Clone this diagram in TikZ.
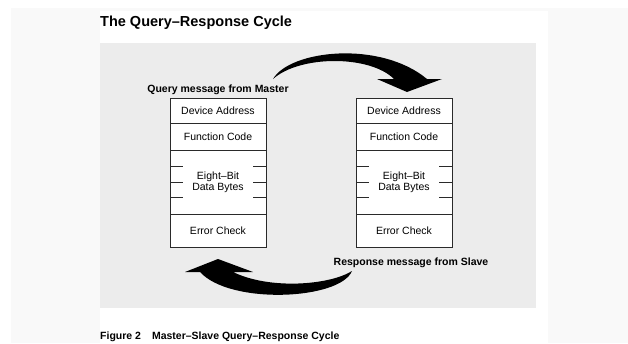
\documentclass[tikz,border=0pt]{standalone}
\usepackage{fontspec}
\setmainfont{Liberation Sans}
\usetikzlibrary{positioning}

\definecolor{outergray}{HTML}{F9F9F9}
\definecolor{panelgray}{HTML}{ECECEC}
\definecolor{boxline}{HTML}{2A2A2A}

\begin{document}
\begin{tikzpicture}[x=1pt,y=-1pt,node distance=0pt,
    field/.style={rectangle,draw=boxline,line width=1pt,fill=white,
      minimum width=96,inner sep=0pt,outer sep=0pt,
      font=\fontsize{10.5}{11}\selectfont},
    msg label/.style={font=\fontsize{10.5}{12}\selectfont\bfseries,inner sep=0pt},
    big arrow/.style={fill=black,draw=none}]

  \useasboundingbox (0,0) rectangle (628,343);
  \fill[white] (0,0) rectangle (628,343);
  \fill[outergray] (11,8) rectangle (628,343);
  \fill[white] (100,11) rectangle (548,343);
  \fill[panelgray] (100,43) rectangle (536,308);

  \node[anchor=base west,inner sep=0pt,font=\fontsize{14.5}{17}\selectfont\bfseries]
    (title) at (100,26) {The Query–Response Cycle};

  % query from the master
  \node[field,minimum height=25] (qa) at (218,111) {Device Address};
  \node[field,minimum height=27] (qf) [below=of qa] {Function Code};
  \node[field,minimum height=64,align=center] (qd) [below=of qf] {Eight–Bit\\Data Bytes};
  \node[field,minimum height=33] (qe) [below=of qd] {Error Check};
  \node[msg label] (qlabel) [above=4pt of qa] {Query message from Master};

  % response from the slave
  \node[field,minimum height=25] (ra) [right=90pt of qa] {Device Address};
  \node[field,minimum height=27] (rf) [below=of ra] {Function Code};
  \node[field,minimum height=64,align=center] (rd) [below=of rf] {Eight–Bit\\Data Bytes};
  \node[field,minimum height=33] (re) [below=of rd] {Error Check};
  \node[msg label,xshift=7pt] (rlabel) [below=10pt of re] {Response message from Slave};

  % byte ticks
  \foreach \b in {qd,rd}
    \foreach \dy in {-15,0,16} {
      \draw[boxline,line width=1pt] ([yshift=\dy]\b.west) -- ++(13,0);
      \draw[boxline,line width=1pt] ([yshift=\dy]\b.east) -- ++(-13,0);
    }

  % the two big curved arrows
  \fill[big arrow] (273,79) .. controls (290,50) and (380,40) .. (427,79)
    -- (442,79) -- (407,92) -- (377,79) -- (394,79)
    .. controls (370,55) and (300,55) .. (273,79) -- cycle;
  \fill[big arrow] (352,271) .. controls (340,300) and (230,305) .. (200,272)
    -- (185,272) -- (218,259) -- (253,272) -- (233,272)
    .. controls (270,290) and (330,285) .. (352,271) -- cycle;

  \node[anchor=base west,inner sep=0pt,font=\fontsize{10.5}{12}\selectfont\bfseries]
    (caption) at (100,339) {Figure 2\hspace{11pt}Master–Slave Query–Response Cycle};
\end{tikzpicture}
\end{document}
